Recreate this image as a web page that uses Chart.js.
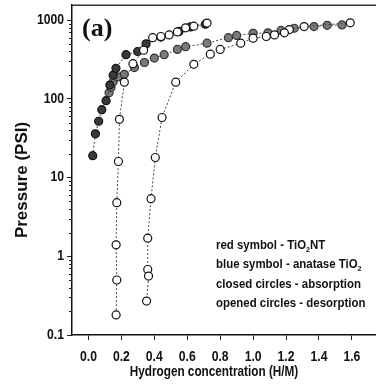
<!DOCTYPE html>
<html lang="en">
<head>
  <meta charset="UTF-8">
  <title>Pressure vs hydrogen concentration</title>
  <script src="https://cdn.jsdelivr.net/npm/chart.js"></script>
  <style>
    html, body {
      margin: 0;
      padding: 0;
      background: #fff;
      overflow: hidden;
    }
    .wrap {
      position: relative;
      width: 390px;
      height: 385px;
    }
  </style>
</head>
<body>
  <div class="wrap"><canvas id="chart"></canvas></div>

  <script>
    // TiO2 nanotubes (closed = absorption, open = desorption)
    const ntAbsX = [0.026, 0.042, 0.062, 0.081, 0.107, 0.13, 0.15, 0.167, 0.228, 0.299, 0.35, 0.44, 0.55, 0.62, 0.71];
    const ntAbsY = [19, 36, 52, 73, 95, 150, 200, 245, 365, 400, 500, 610, 720, 820, 890];
    const ntDesX = [0.72, 0.64, 0.59, 0.54, 0.49, 0.44, 0.39, 0.335, 0.27, 0.218, 0.188, 0.182, 0.172, 0.168, 0.172, 0.168];
    const ntDesY = [920, 840, 800, 710, 650, 620, 600, 415, 280, 163, 55, 16, 4.8, 1.4, 0.5, 0.18];

    // anatase TiO2
    const anAbsX = [0.125, 0.137, 0.15, 0.178, 0.218, 0.279, 0.34, 0.40, 0.46, 0.54, 0.59, 0.72, 0.85, 0.90, 1.0, 1.09, 1.17, 1.25, 1.37, 1.45, 1.54];
    const anAbsY = [120, 140, 165, 190, 205, 250, 290, 330, 365, 425, 460, 510, 600, 640, 680, 690, 740, 790, 830, 860, 870];
    const anDesX = [1.59, 1.31, 1.22, 1.19, 1.13, 1.08, 1.0, 0.925, 0.80, 0.74, 0.64, 0.53, 0.447, 0.406, 0.38, 0.36, 0.36, 0.365, 0.353];
    const anDesY = [925, 830, 760, 690, 650, 620, 590, 510, 425, 370, 275, 163, 58, 18, 5.4, 1.7, 0.68, 0.56, 0.27];

    const xTicks = [0.0, 0.2, 0.4, 0.6, 0.8, 1.0, 1.2, 1.4, 1.6];
    const yTicks = [0.1, 1, 10, 100, 1000];

    const legendLines = [
      ['red symbol - TiO', '2', 'NT'],
      ['blue symbol - anatase TiO', '2', ''],
      ['closed circles - absorption', '', ''],
      ['opened circles - desorption', '', '']
    ];

    const SANS = '"Liberation Sans", Arial, sans-serif';

    function pts(xs, ys) {
      return xs.map((x, i) => ({ x: x, y: ys[i] }));
    }

    function series(xs, ys, fill, edge) {
      return {
        data: pts(xs, ys),
        showLine: true,
        borderColor: '#444',
        borderWidth: 1,
        borderDash: [2, 2],
        pointRadius: 4,
        pointBorderWidth: 1.2,
        pointBackgroundColor: fill,
        pointBorderColor: edge
      };
    }

    // text squeezed sideways, the figure uses a narrow face
    function narrow(ctx, s, x, y, sx) {
      ctx.save();
      ctx.translate(x, y);
      ctx.scale(sx, 1);
      ctx.fillText(s, 0, 0);
      const w = ctx.measureText(s).width * sx;
      ctx.restore();
      return w;
    }

    const decor = {
      id: 'decor',
      afterDraw(chart) {
        const ctx = chart.ctx;
        const a = chart.chartArea;
        const ys = chart.scales.y;
        const xs = chart.scales.x;
        ctx.save();

        // minor ticks on the log axis
        ctx.strokeStyle = '#222';
        ctx.lineWidth = 1;
        ctx.beginPath();
        for (let e = -1; e < 4; e++) {
          for (let m = 2; m < 10; m++) {
            const v = m * Math.pow(10, e);
            if (v > ys.max) break;
            const py = Math.round(ys.getPixelForValue(v)) + 0.5;
            ctx.moveTo(a.left - 3, py);
            ctx.lineTo(a.left, py);
          }
        }
        ctx.stroke();

        // top frame
        ctx.lineWidth = 1.5;
        ctx.strokeStyle = '#333';
        ctx.beginPath();
        ctx.moveTo(a.left, a.top);
        ctx.lineTo(a.right, a.top);
        ctx.stroke();

        ctx.fillStyle = '#111';

        // tick labels
        ctx.font = 'bold 14px ' + SANS;
        ctx.textAlign = 'center';
        ctx.textBaseline = 'alphabetic';
        xTicks.forEach(v => {
          narrow(ctx, v.toFixed(1), xs.getPixelForValue(v), 361, 0.87);
        });
        ctx.textAlign = 'right';
        ctx.textBaseline = 'middle';
        yTicks.forEach(v => {
          narrow(ctx, String(v), 64, ys.getPixelForValue(v), 0.87);
        });

        // panel letter
        ctx.textAlign = 'left';
        ctx.textBaseline = 'alphabetic';
        ctx.font = 'bold 26px "Liberation Serif", serif';
        ctx.fillText('(a)', 82, 36);

        // legend text
        let ty = 249;
        legendLines.forEach(l => {
          let tx = 216;
          ctx.font = 'bold 13px ' + SANS;
          tx += narrow(ctx, l[0], tx, ty, 0.88);
          if (l[1]) {
            ctx.font = 'bold 8px ' + SANS;
            tx += narrow(ctx, l[1], tx, ty + 3, 0.88);
            ctx.font = 'bold 13px ' + SANS;
            narrow(ctx, l[2], tx, ty, 0.88);
          }
          ty += 19.3;
        });

        // axis titles
        ctx.font = 'bold 14px ' + SANS;
        ctx.textAlign = 'center';
        narrow(ctx, 'Hydrogen concentration (H/M)', 214, 376, 0.84);

        ctx.translate(27, 180);
        ctx.rotate(-Math.PI / 2);
        ctx.font = 'bold 17px ' + SANS;
        narrow(ctx, 'Pressure (PSI)', 0, 0, 1.0);
        ctx.restore();
      }
    };

    new Chart(document.getElementById('chart'), {
      type: 'scatter',
      data: {
        datasets: [
          series(ntDesX, ntDesY, '#fff', '#111'),
          series(anDesX, anDesY, '#fff', '#111'),
          series(ntAbsX, ntAbsY, '#3a3a3a', '#111'),
          series(anAbsX, anAbsY, '#7a7a7a', '#333')
        ]
      },
      options: {
        responsive: true,
        maintainAspectRatio: false,
        animation: false,
        layout: { padding: { top: 5, right: 4, left: 0, bottom: 0 } },
        plugins: {
          legend: { display: false },
          tooltip: { enabled: false }
        },
        scales: {
          x: {
            type: 'linear',
            min: -0.1,
            max: 1.8,
            afterBuildTicks: s => { s.ticks = xTicks.map(v => ({ value: v })); },
            afterFit: s => { s.height = 50; },
            grid: { drawOnChartArea: false, tickLength: 5, color: '#222', tickWidth: 1 },
            border: { display: true, color: '#111', width: 1.5 },
            ticks: { display: false }
          },
          y: {
            type: 'logarithmic',
            min: 0.1,
            max: 1550,
            afterBuildTicks: s => { s.ticks = yTicks.map(v => ({ value: v, major: true })); },
            afterFit: s => { s.width = 72; },
            grid: { drawOnChartArea: false, tickLength: 5, color: '#222', tickWidth: 1 },
            border: { display: true, color: '#111', width: 1.5 },
            ticks: { display: false }
          }
        }
      },
      plugins: [decor]
    });
  </script>
</body>
</html>
